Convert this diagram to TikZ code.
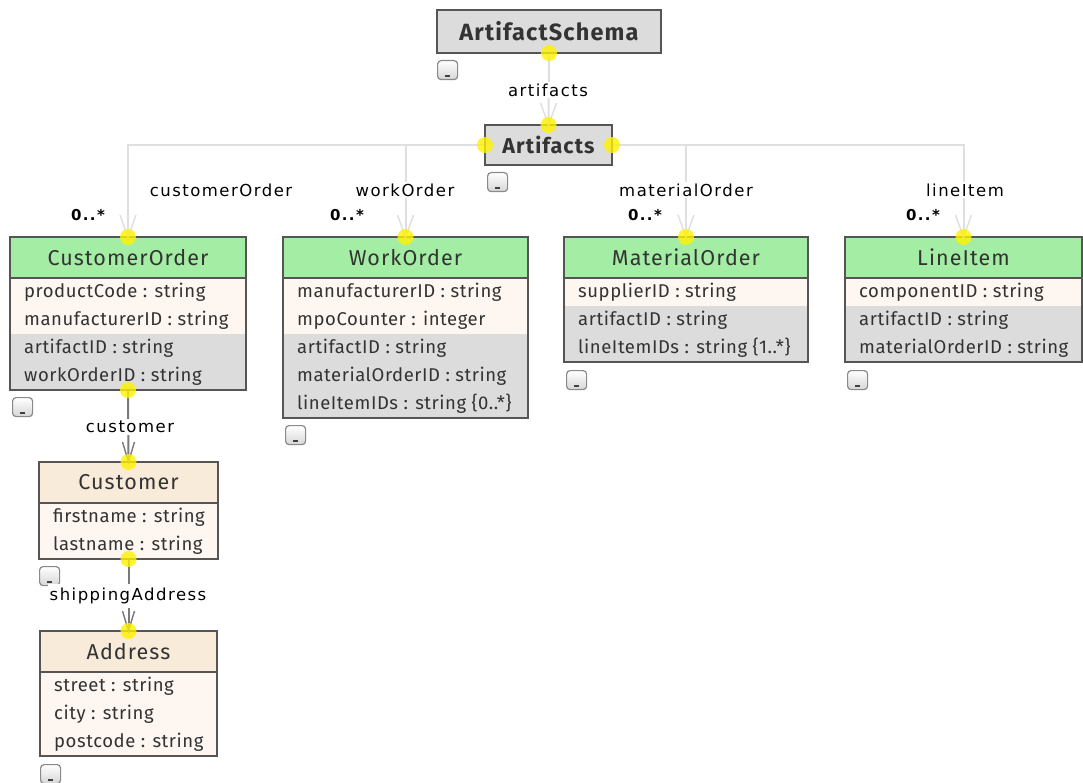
\documentclass[tikz,border=0pt]{standalone}
\usepackage{fontspec}
\setmainfont{Fira Sans}
\newfontfamily\boxfont[LetterSpace=3]{Fira Sans}
\newfontfamily\titlefont[LetterSpace=5]{Fira Sans}
\newfontfamily\lblfont[LetterSpace=9]{DejaVu Sans}
\usetikzlibrary{calc,backgrounds}

\definecolor{hdgreen}{HTML}{A4EDA4}
\definecolor{hdtan}{HTML}{F9EBD9}
\definecolor{cream}{HTML}{FDF6F1}
\definecolor{greyrow}{HTML}{DCDCDC}
\definecolor{boxline}{HTML}{555555}
\definecolor{txt}{HTML}{333333}
\definecolor{connlight}{HTML}{DFDFDF}
\definecolor{conndark}{HTML}{7A7A7A}
\definecolor{btnline}{HTML}{8A8A8A}
\definecolor{btnfill}{HTML}{D6D6D6}

% class box: #1 name, #2 left x, #3 top y, #4 width, #5 header colour, #6 title, #7 rows (colour/text)
\newcommand\umlclass[7]{%
  \foreach \rowc/\rowt [count=\i] in {#7} {%
    \fill[\rowc] (#2,{#3+41+(\i-1)*28}) rectangle ({#2+#4},{#3+41+\i*28});
    \node[attr,anchor=west] at ({#2+14},{#3+41+(\i-0.5)*28}) {\rowt};
    \xdef\nrows{\i}%
  }
  \fill[#5] (#2,#3) rectangle ({#2+#4},{#3+41});
  \node[title] at ({#2+#4/2},{#3+20.5}) {#6};
  \draw[draw=boxline,line width=1.3pt] (#2,{#3+41}) -- ({#2+#4},{#3+41});
  \node[frame,anchor=north west,minimum width={#4*1pt},
        minimum height={(41+28*\nrows)*1pt}] (#1) at (#2,#3) {};
}

\begin{document}
\begin{tikzpicture}[x=1pt,y=-1pt,
  frame/.style={draw=boxline,line width=1.3pt,inner sep=0pt,outer sep=0pt},
  title/.style={text=txt,font=\titlefont\fontsize{21.5}{25}\selectfont,inner sep=0pt},
  attr/.style={text=txt,font=\boxfont\fontsize{18.5}{22}\selectfont,inner sep=0pt},
  schemabox/.style={frame,fill=greyrow,text=txt,anchor=north west},
  lbl/.style={font=\lblfont\fontsize{16.5}{20}\selectfont,text=black,fill=white,inner sep=2pt},
  mult/.style={font=\lblfont\bfseries\fontsize{15}{18}\selectfont,text=black,inner sep=0pt},
  conn/.style={draw=connlight,line width=2pt},
  dconn/.style={draw=conndark,line width=2pt},
  dot/.style={fill=yellow,fill opacity=0.8},
  btn/.style={rounded corners=3.5pt,draw=btnline,line width=1.2pt,top color=white,
    bottom color=btnfill,minimum width=20pt,minimum height=19pt,inner sep=0pt,
    anchor=north west,
    path picture={\draw[line width=1.6pt,black!75]
      ([xshift=-2.5pt,yshift=3.5pt]path picture bounding box.south) -- ++(5pt,0pt);}},
  pics/vtip/.style={code={\draw[line width=1.4pt,#1] (-8,-22) -- (0,0) -- (8,-22);}},
  pics/vtipsmall/.style={code={\draw[line width=1.4pt,#1] (-6,-20) -- (0,0) -- (6,-20);}}
]
\useasboundingbox (0,0) rectangle (1083,783);

% root elements
\node[schemabox,minimum width=224pt,minimum height=43pt,
  font=\titlefont\bfseries\fontsize{23.5}{27}\selectfont] (schema) at (437,10) {ArtifactSchema};
\node[schemabox,minimum width=127pt,minimum height=40pt,
  font=\titlefont\bfseries\fontsize{21.5}{25}\selectfont] (art) at (485,125) {Artifacts};

% classes
\umlclass{co}{10}{237}{236}{hdgreen}{CustomerOrder}{cream/productCode : string,
  cream/manufacturerID : string, greyrow/artifactID : string, greyrow/workOrderID : string}
\umlclass{wo}{283}{237}{245}{hdgreen}{WorkOrder}{cream/manufacturerID : string,
  cream/mpoCounter : integer, greyrow/artifactID : string,
  greyrow/materialOrderID : string, greyrow/lineItemIDs : string \{0..*\}}
\umlclass{mo}{564}{237}{244}{hdgreen}{MaterialOrder}{cream/supplierID : string,
  greyrow/artifactID : string, greyrow/lineItemIDs : string \{1..*\}}
\umlclass{li}{845}{237}{237}{hdgreen}{LineItem}{cream/componentID : string,
  greyrow/artifactID : string, greyrow/materialOrderID : string}
\umlclass{cu}{39}{462}{179}{hdtan}{Customer}{cream/firstname : string,
  cream/lastname : string}
\umlclass{ad}{40}{631}{177}{hdtan}{Address}{cream/street : string,
  cream/city : string, cream/postcode : string}

% collapse buttons
\node[btn] (b-schema) at (437,60) {};
\node[btn] (b-art) at (487,172) {};
\node[btn] (b-co) at (12,397) {};
\node[btn] (b-wo) at (285,425) {};
\node[btn] (b-mo) at (566,370) {};
\node[btn] (b-li) at (847,370) {};
\node[btn] (b-cu) at (39,566) {};
\node[btn] (b-ad) at (40,764) {};

% arrow heads
\pic at (art.north) {vtip=connlight};
\pic at (co.north) {vtip=connlight};
\pic at (wo.north) {vtip=connlight};
\pic at (mo.north) {vtip=connlight};
\pic at (li.north) {vtip=connlight};
\pic at (cu.north) {vtipsmall=conndark};
\pic at (ad.north) {vtipsmall=conndark};

% role names and multiplicities
\node[lbl] (l-art) at (548,90) {artifacts};
\node[lbl] (l-co) at (221,190) {customerOrder};
\node[lbl] (l-wo) at (405,190) {workOrder};
\node[lbl] (l-mo) at (686,190) {materialOrder};
\node[lbl] (l-li) at (965,190) {lineItem};
\node[lbl] (l-cu) at (130,427) {customer};
\node[lbl,inner ysep=4pt] (l-ad) at (128,596) {shippingAddress};
\node[mult] (m-co) at (88,215) {0..*};
\node[mult] (m-wo) at (347,215) {0..*};
\node[mult] (m-mo) at (645,215) {0..*};
\node[mult] (m-li) at (923,215) {0..*};

% connection points
\foreach \p in {schema.south,art.north,art.west,art.east,co.north,wo.north,
  mo.north,li.north,co.south,cu.north,cu.south,ad.north}
  \fill[dot] (\p) circle (8pt);

% association lines, behind everything
\begin{scope}[on background layer]
  \fill[white] (0,0) rectangle (1083,783);
  \draw[conn] (schema.south) -- (art.north);
  \draw[conn] (art.west) -| (co.north);
  \draw[conn] (art.east) -| (li.north);
  \draw[conn] (wo.north |- art.west) -- (wo.north);
  \draw[conn] (mo.north |- art.east) -- (mo.north);
  \draw[dconn] (co.south) -- (cu.north);
  \draw[dconn] (cu.south) -- (ad.north);
\end{scope}
\end{tikzpicture}
\end{document}
